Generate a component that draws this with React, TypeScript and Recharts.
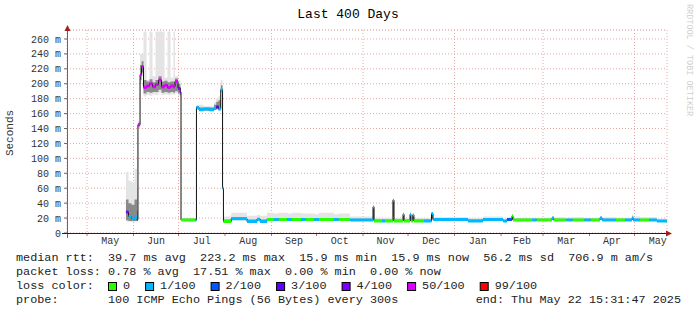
import React from 'react';
import {
  ComposedChart,
  Area,
  Line,
  XAxis,
  YAxis,
  CartesianGrid,
  ReferenceLine,
} from 'recharts';

// days since start of window (400 days ending Thu May 22 15:31:47 2025)
const days = [
  39.3, 41, 43, 45, 46.7, 47.3, 48.7, 49.7, 51, 53, 55, 57, 59, 61, 63, 65, 67, 69, 71, 72, 74, 75.5,
  76, 85.5, 86.3, 88, 91, 95, 98, 99.5, 101, 102.5, 103.7, 104.3, 109.5, 120, 126.7, 128.7, 133.3,
  138, 141, 147, 150, 156, 159, 165, 168, 178, 181, 188.7, 204, 204.7, 210, 212, 217.3, 218, 224,
  224.7, 228.7, 229.3, 230.5, 231.3, 238, 243, 244, 267.3, 277.3, 290.7, 293.3, 296.7, 297.3, 310,
  313, 323.3, 324.5, 333, 337, 345, 349, 355.3, 356.7, 366, 372, 376.7, 377.5, 382, 388, 393.3, 400,
];
// median rtt in ms
const median = [
  28, 22, 19, 21, 18, 145, 212, 223, 195, 197, 200, 196, 199, 205, 196, 198, 195, 197, 196, 203, 194, 189,
  17.5, 17.5, 168, 165, 166, 165, 167, 169, 166, 192, 60, 15.5, 19, 15.5, 18.5, 15.5, 18,
  18, 18, 18, 18, 18, 18, 18, 18, 18, 18, 17.5, 35, 16, 16, 16, 44, 16, 25,
  16, 25, 16, 24, 16, 16, 26, 18, 16, 18, 16, 18, 23, 17.5, 17.5,
  17.5, 20, 17.5, 17.5, 17.5, 17.5, 17.5, 20, 17.5, 17.5, 17.5, 20, 17.5, 17.5, 17.5, 16, 16,
];
// index into lossColors
const lossIdx = [
  4, 1, 1, 1, 2, 5, 5, 5, 5, 5, 5, 5, 5, 5, 5, 5, 5, 5, 5, 5, 4, 4,
  0, 1, 1, 1, 1, 1, 1, 3, 1, 1, 1, 0, 1, 1, 1, 1, 0,
  1, 0, 1, 0, 1, 0, 1, 0, 1, 0, 1, 1, 0, 1, 0, 1, 0, 1,
  0, 1, 0, 1, 0, 1, 1, 1, 1, 1, 1, 2, 0, 0, 1,
  0, 1, 0, 1, 0, 1, 0, 1, 1, 0, 1, 1, 1, 0, 1, 1, 1,
];
const smokeLo = [
  15, 15, 15, 15, 16, 140, 200, 210, 183, 185, 184, 186, 185, 188, 185, 186, 185, 186, 185, 187, 184, 182,
  16.5, 16.5, 165, 163, 163, 163, 164, 165, 164, 188, 58, 14.5, 17, 14.5, 17, 14.5, 16.5,
  16.5, 16.5, 16.5, 16.5, 16.5, 16.5, 16.5, 16.5, 16.5, 16.5, 16.5, 17, 15, 15, 15, 17, 15, 16,
  15, 16, 15, 16, 15, 15, 17, 17, 15, 17, 15, 16, 17, 16.5, 16.5,
  16.5, 17, 16.5, 16.5, 16.5, 16.5, 16.5, 17, 16.5, 16.5, 16.5, 17, 16.5, 16.5, 16.5, 15, 15,
];
const smokeHi = [
  82, 70, 68, 86, 60, 150, 240, 240, 270, 205, 270, 210, 270, 270, 270, 208, 270, 208, 270, 210, 205, 200,
  20, 20, 172, 172, 170, 170, 176, 180, 184, 205, 62, 22, 27, 23, 24, 23, 27,
  26, 27, 26, 27, 26, 26, 25, 27, 25, 26, 22, 36, 20, 20, 20, 45, 20, 26,
  20, 26, 20, 25, 20, 20, 27, 21, 20, 22, 19, 21, 24, 20, 20,
  20, 23, 21, 20, 21, 20, 20, 23, 21, 20, 20, 25, 22, 21, 21, 19, 19,
];
const coreLo = [
  17, 16, 16, 16, 17, 143, 205, 215, 187, 189, 188, 189, 189, 192, 188, 189, 188, 189, 188, 190, 187, 185,
  17, 17, 166, 164, 164, 164, 165, 166, 165, 190, 59, 15, 18, 15, 17.5, 15, 17,
  17, 17, 17, 17, 17, 17, 17, 17, 17, 17, 17, 20, 15.5, 15.5, 15.5, 22, 15.5, 18,
  15.5, 18, 15.5, 18, 15.5, 15.5, 19, 17.5, 15.5, 17.5, 15.5, 17, 19, 17, 17,
  17, 18, 17, 17, 17, 17, 17, 18, 17, 17, 17, 18, 17, 17, 17, 15.5, 15.5,
];
const coreHi = [
  45, 40, 38, 45, 30, 147, 225, 230, 205, 203, 206, 202, 205, 210, 203, 204, 202, 203, 203, 207, 200, 195,
  19, 19, 170, 168, 168, 168, 172, 176, 178, 198, 61, 18, 21, 18, 20, 18, 20,
  20, 20, 20, 20, 20, 20, 20, 20, 20, 20, 19, 34, 18, 18, 18, 42, 18, 24,
  18, 24, 18, 23, 18, 18, 25, 19, 18, 19, 17.5, 19, 22, 19, 19,
  19, 21, 19, 19, 19, 19, 19, 21, 19, 19, 19, 22, 19, 19, 19, 17.5, 17.5,
];

const lossColors = ['#26ff00', '#00b8ff', '#0059ff', '#5e00ff', '#7e00ff', '#dd00ff', '#ff0000'];
const lossLabels = ['0', '1/100', '2/100', '3/100', '4/100', '50/100', '99/100'];

// month boundaries (days since start) and month lengths for label placement
const monthStarts = [13.35, 44.35, 74.35, 105.35, 136.35, 166.35, 197.35, 227.35, 258.35, 289.35, 317.35, 348.35, 378.35];
const monthDays = [31, 30, 31, 31, 30, 31, 30, 31, 31, 28, 31, 30, 31];
const monthLabels = ['May', 'Jun', 'Jul', 'Aug', 'Sep', 'Oct', 'Nov', 'Dec', 'Jan', 'Feb', 'Mar', 'Apr', 'May'];

const majorTicks = [0, 20, 40, 60, 80, 100, 120, 140, 160, 180, 200, 220, 240, 260];
const minorTicks = [10, 30, 50, 70, 90, 110, 130, 150, 170, 190, 210, 230, 250, 270];

const statsLines = [
  'median rtt:  39.7 ms avg  223.2 ms max  15.9 ms min  15.9 ms now  56.2 ms sd  706.9 m am/s',
  'packet loss: 0.78 % avg  17.51 % max  0.00 % min  0.00 % now',
];
const probeText = '100 ICMP Echo Pings (56 Bytes) every 300s';
const endText = 'end: Thu May 22 15:31:47 2025';

const FONT = '"Liberation Mono", "DejaVu Sans Mono", monospace';
const CHAR = 7.1;

const rows = days.map((d, i) => ({
  day: d,
  med: median[i],
  smoke: [smokeLo[i], smokeHi[i]],
  core: [coreLo[i], coreHi[i]],
}));

const segs: { day: number; v: number | null }[][] = lossColors.map(() => []);
for (let i = 0; i < days.length - 1; i++) {
  const s = segs[lossIdx[i]];
  s.push({ day: days[i], v: median[i] });
  s.push({ day: days[i + 1], v: median[i] });
  s.push({ day: days[i + 1], v: null });
}

const midMonths = monthStarts.map((s, i) => s + monthDays[i] / 2);

const legendPos: number[] = [];
let px = 108;
lossLabels.forEach((l) => {
  legendPos.push(px);
  px += 15 + l.length * CHAR + 15;
});

export default function App() {
  return (
    <div style={{ position: 'absolute', left: 0, top: 0, width: 697, height: 315, background: '#fff' }}>
      <ComposedChart
        width={697}
        height={315}
        data={rows}
        margin={{ top: 30, right: 30, bottom: 62, left: 0 }}
      >
        <XAxis
          xAxisId="lab"
          dataKey="day"
          type="number"
          domain={[0, 400]}
          allowDataOverflow
          ticks={midMonths}
          interval={0}
          tickFormatter={(_v: number, i: number) => monthLabels[i]}
          tickLine={false}
          tickSize={0}
          tickMargin={4}
          axisLine={false}
          height={20}
          tick={{ fontSize: 10, fill: '#333', fontFamily: FONT }}
        />
        <XAxis xAxisId="grid" dataKey="day" type="number" domain={[0, 400]} ticks={monthStarts} height={0} hide />
        <YAxis
          yAxisId="main"
          type="number"
          domain={[0, 272]}
          allowDataOverflow
          ticks={majorTicks}
          interval={0}
          width={67}
          tickFormatter={(v: number) => (v === 0 ? '0' : `${v} m`)}
          tickSize={3}
          tickMargin={3}
          tickLine={{ stroke: '#666' }}
          axisLine={false}
          tick={{ fontSize: 10, fill: '#333', fontFamily: FONT }}
        />
        <YAxis yAxisId="minor" type="number" domain={[0, 272]} ticks={minorTicks} width={0} hide />
        <CartesianGrid
          xAxisId="grid"
          yAxisId="minor"
          vertical={false}
          stroke="#c8c8c8"
          strokeDasharray="1 2"
        />
        <CartesianGrid
          xAxisId="grid"
          yAxisId="main"
          stroke="#e8a8a8"
          strokeDasharray="1 2"
        />
        <Area
          xAxisId="lab"
          yAxisId="main"
          type="stepAfter"
          dataKey="smoke"
          stroke="none"
          fill="#e4e4e4"
          fillOpacity={1}
          isAnimationActive={false}
        />
        <Area
          xAxisId="lab"
          yAxisId="main"
          type="stepAfter"
          dataKey="core"
          stroke="none"
          fill="#8a8a8a"
          fillOpacity={1}
          isAnimationActive={false}
        />
        <Line
          xAxisId="lab"
          yAxisId="main"
          type="stepAfter"
          dataKey="med"
          stroke="#111"
          strokeWidth={1}
          dot={false}
          isAnimationActive={false}
        />
        {lossColors.map((c, k) => (
          <Line
            key={c}
            xAxisId="lab"
            yAxisId="main"
            data={segs[k]}
            dataKey="v"
            type="linear"
            stroke={c}
            strokeWidth={3}
            dot={false}
            connectNulls={false}
            isAnimationActive={false}
          />
        ))}
        {monthStarts.map((m) => (
          <ReferenceLine
            key={m}
            xAxisId="lab"
            yAxisId="main"
            segment={[{ x: m, y: 0 }, { x: m, y: -4 }]}
            stroke="#d06060"
            ifOverflow="visible"
          />
        ))}
      </ComposedChart>
      <svg
        width={697}
        height={315}
        style={{ position: 'absolute', left: 0, top: 0, pointerEvents: 'none' }}
        fontFamily={FONT}
      >
        <text x={348} y={14} textAnchor="middle" dominantBaseline="central" fontSize={13} fill="#000">
          Last 400 Days
        </text>
        <text
          transform="translate(689,4) rotate(90)"
          fontSize={8.5}
          fill="#d0d0d0"
          dominantBaseline="central"
          style={{ whiteSpace: 'pre' }}
        >
          RRDTOOL / TOBI OETIKER
        </text>
        <text
          transform="translate(10,133) rotate(-90)"
          textAnchor="middle"
          dominantBaseline="central"
          fontSize={11}
          fill="#333"
        >
          Seconds
        </text>
        <line x1={67.5} y1={30} x2={67.5} y2={238} stroke="#666" />
        <polygon points="64.5,31 70.5,31 67.5,25" fill="#a02020" />
        <line x1={62} y1={233.5} x2={667} y2={233.5} stroke="#222" />
        <polygon points="666,230.5 666,236.5 672,233.5" fill="#a02020" />
        {statsLines.map((t, i) => (
          <text
            key={i}
            x={16}
            y={258 + i * 14}
            dominantBaseline="central"
            fontSize={11.8}
            fill="#222"
            style={{ whiteSpace: 'pre' }}
          >
            {t}
          </text>
        ))}
        <text x={16} y={286} dominantBaseline="central" fontSize={11.8} fill="#222">
          loss color:
        </text>
        {lossLabels.map((l, i) => (
          <g key={l}>
            <rect x={legendPos[i] + 0.5} y={282.5} width={8} height={8} fill={lossColors[i]} stroke="#000" />
            <text x={legendPos[i] + 15} y={286} dominantBaseline="central" fontSize={11.8} fill="#222">
              {l}
            </text>
          </g>
        ))}
        <text x={16} y={300} dominantBaseline="central" fontSize={11.8} fill="#222">
          probe:
        </text>
        <text x={108} y={300} dominantBaseline="central" fontSize={11.8} fill="#222">
          {probeText}
        </text>
        <text x={681} y={300} textAnchor="end" dominantBaseline="central" fontSize={11.8} fill="#222">
          {endText}
        </text>
      </svg>
    </div>
  );
}
